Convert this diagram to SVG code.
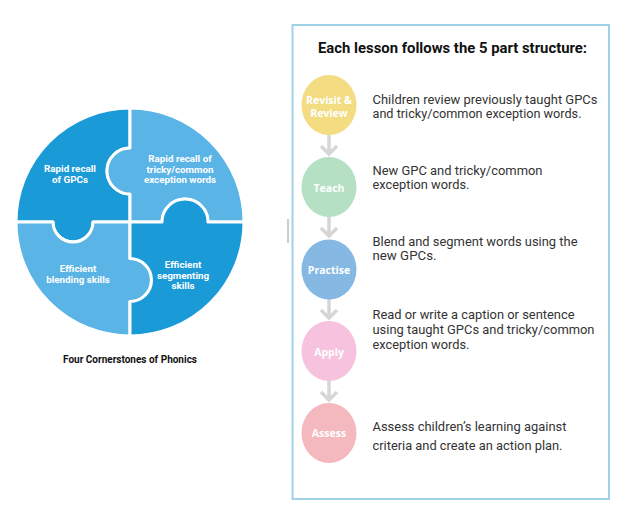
<svg xmlns="http://www.w3.org/2000/svg" width="627" height="517" viewBox="0 0 627 517">
<style>
.bg{fill:#ffffff}
.dark{fill:#1b9ad8;stroke:#ffffff;stroke-width:3;stroke-linejoin:round}
.light{fill:#5ab4e5;stroke:#ffffff;stroke-width:3;stroke-linejoin:round}
.pt{font-family:Roboto,"Liberation Sans",sans-serif;font-weight:bold;font-size:9.8px;fill:#ffffff;text-anchor:middle}
.cap{font-family:Roboto,"Liberation Sans",sans-serif;font-weight:bold;font-size:10px;fill:#111111;text-anchor:middle}
.panel{fill:#ffffff;stroke:#9fd2e6;stroke-width:2}
.title{font-family:Roboto,"Liberation Sans",sans-serif;font-weight:bold;font-size:14.5px;fill:#111111}
.body{font-family:Roboto,"Liberation Sans",sans-serif;font-size:13px;fill:#333333}
.lbl{font-family:"Open Sans",Roboto,"Liberation Sans",sans-serif;font-weight:bold;font-size:10.5px;fill:#ffffff;text-anchor:middle}
.conn{fill:none;stroke:#d6d6d6;stroke-width:3.5}
</style>
<rect class="bg" x="0" y="0" width="627" height="517"/>

<g id="puzzle">
  <g id="piece-gpcs">
    <path class="dark" d="M130,108 L130,148 A23,23 0 0 0 130,194 L130,222 L93,222 A20,20 0 0 1 53,222 L16,222 A114,114 0 0 1 130,108 Z"/>
    <text class="pt" x="70" y="172">Rapid recall</text>
    <text class="pt" x="70" y="183">of GPCs</text>
  </g>
  <g id="piece-tricky">
    <path class="light" d="M130,108 A114,114 0 0 1 244,222 L208,222 A23,23 0 0 0 162,222 L130,222 L130,194 A23,23 0 0 1 130,148 Z"/>
    <text class="pt" x="180" y="162">Rapid recall of</text>
    <text class="pt" x="180" y="172.5">tricky/common</text>
    <text class="pt" x="180" y="183">exception words</text>
  </g>
  <g id="piece-blending">
    <path class="light" d="M16,222 L53,222 A20,20 0 0 0 93,222 L130,222 L130,258.5 A21.5,21.5 0 0 1 130,301.5 L130,336 A114,114 0 0 1 16,222 Z"/>
    <text class="pt" x="78" y="272">Efficient</text>
    <text class="pt" x="78" y="282.5">blending skills</text>
  </g>
  <g id="piece-segmenting">
    <path class="dark" d="M244,222 A114,114 0 0 1 130,336 L130,301.5 A21.5,21.5 0 0 0 130,258.5 L130,222 L162,222 A23,23 0 0 1 208,222 L244,222 Z"/>
    <text class="pt" x="183" y="268">Efficient</text>
    <text class="pt" x="183" y="278.5">segmenting</text>
    <text class="pt" x="183" y="289">skills</text>
  </g>
  <text id="caption" class="cap" x="130" y="363">Four Cornerstones of Phonics</text>
</g>

<line x1="288" y1="219" x2="288" y2="243" stroke="#9a9a9a" stroke-width="1"/>

<rect id="panel" class="panel" x="292.5" y="25" width="316.5" height="474"/>
<text id="title" class="title" x="318" y="53" textLength="269" lengthAdjust="spacingAndGlyphs">Each lesson follows the 5 part structure:</text>

<g id="connectors">
  <path class="conn" d="M329,133 V154 M321,146 L329,154 L337,146"/>
  <path class="conn" d="M329,215 V236 M321,228 L329,236 L337,228"/>
  <path class="conn" d="M329,298 V318 M321,310 L329,318 L337,310"/>
  <path class="conn" d="M329,379 V400 M321,392 L329,400 L337,392"/>
</g>

<g id="step-revisit">
  <ellipse cx="329" cy="105" rx="27.5" ry="30" fill="#f3dc82"/>
  <text class="lbl" x="329" y="104">Revisit &amp;</text>
  <text class="lbl" x="329" y="117">Review</text>
  <text class="body" x="372.5" y="104" textLength="225" lengthAdjust="spacingAndGlyphs">Children review previously taught GPCs</text>
  <text class="body" x="372.5" y="118" textLength="209" lengthAdjust="spacingAndGlyphs">and tricky/common exception words.</text>
</g>
<g id="step-teach">
  <ellipse cx="329" cy="187" rx="27.5" ry="30" fill="#b6e0c4"/>
  <text class="lbl" x="329" y="191.5">Teach</text>
  <text class="body" x="372.5" y="175" textLength="170" lengthAdjust="spacingAndGlyphs">New GPC and tricky/common</text>
  <text class="body" x="372.5" y="189" textLength="97" lengthAdjust="spacingAndGlyphs">exception words.</text>
</g>
<g id="step-practise">
  <ellipse cx="329" cy="269.5" rx="27.5" ry="30" fill="#85b9e4"/>
  <text class="lbl" x="329" y="273.5">Practise</text>
  <text class="body" x="372.5" y="246" textLength="205" lengthAdjust="spacingAndGlyphs">Blend and segment words using the</text>
  <text class="body" x="372.5" y="260" textLength="64" lengthAdjust="spacingAndGlyphs">new GPCs.</text>
</g>
<g id="step-apply">
  <ellipse cx="329" cy="351" rx="27.5" ry="30" fill="#f6c2dd"/>
  <text class="lbl" x="329" y="355.5">Apply</text>
  <text class="body" x="372.5" y="318.5" textLength="202" lengthAdjust="spacingAndGlyphs">Read or write a caption or sentence</text>
  <text class="body" x="372.5" y="333.5" textLength="222" lengthAdjust="spacingAndGlyphs">using taught GPCs and tricky/common</text>
  <text class="body" x="372.5" y="349" textLength="97" lengthAdjust="spacingAndGlyphs">exception words.</text>
</g>
<g id="step-assess">
  <ellipse cx="329" cy="433" rx="27.5" ry="30" fill="#f4b8bf"/>
  <text class="lbl" x="329" y="437">Assess</text>
  <text class="body" x="372.5" y="431" textLength="194" lengthAdjust="spacingAndGlyphs">Assess children’s learning against</text>
  <text class="body" x="372.5" y="450" textLength="190" lengthAdjust="spacingAndGlyphs">criteria and create an action plan.</text>
</g>
</svg>
